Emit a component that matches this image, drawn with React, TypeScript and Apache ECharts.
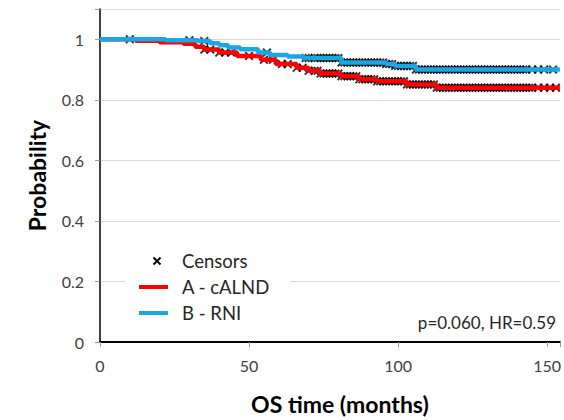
import React, { useEffect, useRef } from "react";
import * as echarts from "echarts";

// Kaplan-Meier step curves (time in months, survival probability)
const timesA = [0, 12, 20, 28, 32, 35, 40, 46, 54, 59, 66, 70, 74, 81, 87, 93, 103, 113, 154.3];
const survA = [1, 0.995, 0.99, 0.985, 0.975, 0.966, 0.956, 0.945, 0.932, 0.918, 0.906, 0.896, 0.887, 0.878, 0.868, 0.861, 0.851, 0.84, 0.84];
const timesB = [0, 22, 33, 37, 40, 43, 47, 53, 57, 63, 68, 81, 96, 99, 106, 154.3];
const survB = [1, 0.997, 0.994, 0.987, 0.98, 0.973, 0.967, 0.956, 0.948, 0.943, 0.938, 0.923, 0.918, 0.912, 0.9, 0.9];

// Censoring times
const censorA = [35, 37, 40, 42, 44, 50, 55, 58, 61, 63, 66, 68, 70, 72, 73, 74, 75, 76, 77, 78, 79, 80, 81, 82, 83, 84, 85, 86, 87, 88, 89, 90, 91, 92, 93, 94, 95, 96, 97, 98, 99, 100, 101, 102, 103, 104, 105, 106, 107, 108, 109, 110, 111, 112, 113, 114, 115, 116, 117, 118, 119, 120, 121, 122, 123, 124, 125, 126, 127, 128, 129, 130, 131, 132, 133, 134, 135, 136, 137, 138, 139, 140, 141, 142, 143, 144, 145, 147, 149, 151, 153];
const censorB = [10, 30, 35, 56, 69, 70, 72, 73, 74, 75, 76, 77, 78, 79, 80, 81, 82, 83, 84, 85, 86, 87, 88, 89, 90, 91, 92, 93, 94, 95, 96, 97, 98, 99, 100, 101, 102, 103, 104, 105, 106, 107, 108, 109, 110, 111, 112, 113, 114, 115, 116, 117, 118, 119, 120, 121, 122, 123, 124, 125, 126, 127, 128, 129, 130, 131, 132, 133, 134, 135, 136, 137, 138, 139, 140, 141, 142, 143, 145, 147, 149, 152];

const xTicks = [0, 50, 100, 150];
const seriesNames = ["A - cALND", "B - RNI"];
const statText = "p=0.060, HR=0.59";

const RED = "#ff0000";
const BLUE = "#1aa7e6";
const FONT = "Lato, 'Liberation Sans', sans-serif";
const CROSS = "path://M0,1.5L1.5,0L5,3.5L8.5,0L10,1.5L6.5,5L10,8.5L8.5,10L5,6.5L1.5,10L0,8.5L3.5,5Z";

function survAt(times: number[], surv: number[], t: number) {
  let s = surv[0];
  for (let i = 0; i < times.length; i++) {
    if (times[i] <= t) s = surv[i];
  }
  return s;
}

export default function App() {
  const ref = useRef<HTMLDivElement>(null);
  useEffect(() => {
    if (!ref.current) return;
    const chart = echarts.init(ref.current, undefined, { renderer: "svg" });
    const dataA = timesA.map((t, i) => [t, survA[i]]);
    const dataB = timesB.map((t, i) => [t, survB[i]]);
    const censors = [
      ...censorA.map((t) => [t, survAt(timesA, survA, t)]),
      ...censorB.map((t) => [t, survAt(timesB, survB, t)]),
    ];
    chart.setOption({
      animation: false,
      grid: { left: 100, right: 0, top: 9, bottom: 78 },
      xAxis: {
        type: "value",
        min: 0,
        max: 154.3,
        interval: 50,
        name: "OS time (months)",
        nameLocation: "middle",
        nameGap: 50,
        nameTextStyle: { fontFamily: FONT, fontWeight: "bold", fontSize: 23, color: "#000", padding: [0, 0, 0, 20] },
        axisLine: { lineStyle: { color: "#000", width: 2 } },
        axisTick: { show: true, length: 5, lineStyle: { color: "#999" } },
        axisLabel: {
          formatter: (v: number) => (xTicks.includes(v) ? String(v) : ""),
          fontFamily: FONT,
          fontSize: 16,
          color: "#404040",
          margin: 15,
        },
        splitLine: { show: false },
      },
      yAxis: {
        type: "value",
        min: 0,
        max: 1.1,
        interval: 0.2,
        name: "Probability",
        nameLocation: "middle",
        nameGap: 52,
        nameTextStyle: { fontFamily: FONT, fontWeight: "bold", fontSize: 23, color: "#000" },
        axisLine: { show: true, lineStyle: { color: "#000", width: 1.5 } },
        axisTick: { show: true, length: 5, lineStyle: { color: "#999" } },
        axisLabel: {
          formatter: (v: number) => (v > 1.05 ? "" : String(Number(v.toFixed(1)))),
          fontFamily: FONT,
          fontSize: 16,
          color: "#404040",
          margin: 16,
        },
        splitLine: { show: true, lineStyle: { color: "#d9d9d9", width: 1 } },
      },
      series: [
        {
          name: "Censors",
          type: "scatter",
          data: censors,
          symbol: CROSS,
          symbolSize: 9,
          itemStyle: { color: "#000" },
          z: 1,
        },
        {
          name: seriesNames[0],
          type: "line",
          step: "end",
          data: dataA,
          showSymbol: false,
          lineStyle: { color: RED, width: 4.5 },
          z: 2,
        },
        {
          name: seriesNames[1],
          type: "line",
          step: "end",
          data: dataB,
          showSymbol: false,
          lineStyle: { color: BLUE, width: 4.5 },
          z: 3,
        },
      ],
      graphic: [
        { type: "rect", shape: { x: 125, y: 248, width: 165, height: 77 }, style: { fill: "#fff" }, z: 10 },
        { type: "line", shape: { x1: 153.5, y1: 257.5, x2: 160.5, y2: 264.5 }, style: { stroke: "#000", lineWidth: 2 }, z: 11 },
        { type: "line", shape: { x1: 160.5, y1: 257.5, x2: 153.5, y2: 264.5 }, style: { stroke: "#000", lineWidth: 2 }, z: 11 },
        { type: "text", x: 182, y: 261, style: { text: "Censors", fontFamily: FONT, fontSize: 18.5, fill: "#262626", verticalAlign: "middle" }, z: 11 },
        { type: "line", shape: { x1: 139, y1: 287, x2: 168, y2: 287 }, style: { stroke: RED, lineWidth: 4 }, z: 11 },
        { type: "text", x: 182, y: 287, style: { text: seriesNames[0], fontFamily: FONT, fontSize: 18.5, fill: "#262626", verticalAlign: "middle" }, z: 11 },
        { type: "line", shape: { x1: 139, y1: 313, x2: 168, y2: 313 }, style: { stroke: BLUE, lineWidth: 4 }, z: 11 },
        { type: "text", x: 182, y: 313, style: { text: seriesNames[1], fontFamily: FONT, fontSize: 18.5, fill: "#262626", verticalAlign: "middle" }, z: 11 },
        { type: "text", x: 556, y: 322, style: { text: statText, fontFamily: FONT, fontSize: 17, fill: "#262626", align: "right", verticalAlign: "middle" }, z: 11 },
      ],
    });
    return () => chart.dispose();
  }, []);
  return <div ref={ref} style={{ position: "absolute", left: 0, top: 0, width: 564, height: 420 }} />;
}
